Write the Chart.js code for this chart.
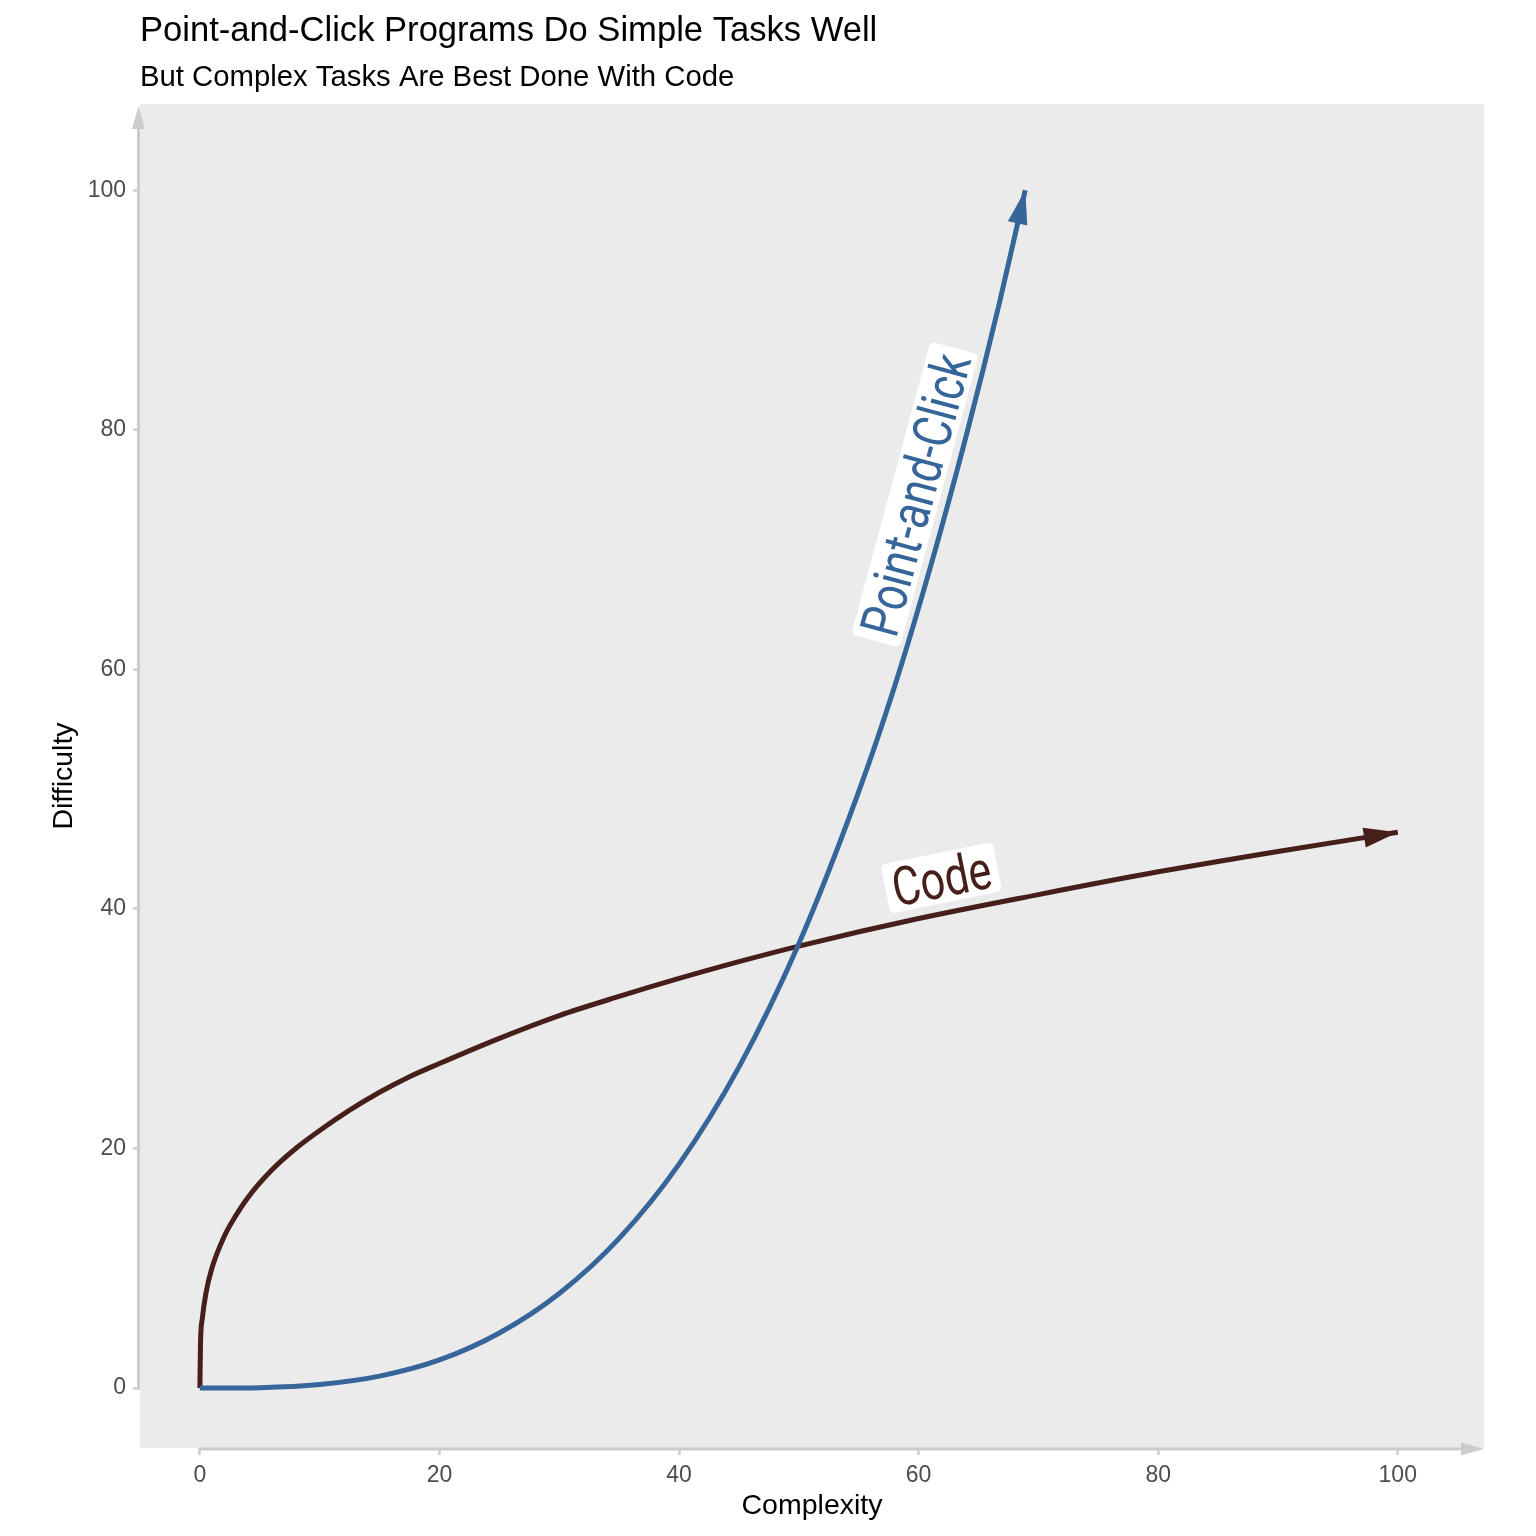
<!DOCTYPE html>
<html>
<head>
<meta charset="utf-8">
<title>Point-and-Click vs Code</title>
<script src="https://cdn.jsdelivr.net/npm/chart.js@4.4.1/dist/chart.umd.min.js"></script>
<style>
  html, body { margin: 0; padding: 0; background: #fff; }
  canvas { display: block; }
</style>
</head>
<body>
<canvas id="chart" width="1536" height="1536"></canvas>
<script>
// values
const pacComplexity = [0, 5, 10, 15, 20, 25, 30, 35, 40, 45, 50, 55, 58, 61, 64, 66.7, 68.9];
const pacDifficulty = [0, 0.04, 0.3, 1.0, 2.35, 4.6, 7.9, 12.5, 18.7, 26.8, 37.1, 49.8, 58.6, 68.6, 79.6, 90.4, 100];
const codeComplexity = [0, 0.05, 0.2, 0.5, 1, 2, 3, 4, 6, 8, 10, 12.5, 15, 17.5, 20, 25, 30, 35, 40, 45, 50, 60, 70, 80, 90, 100];
const codeDifficulty = [0, 3.7, 5.8, 7.9, 10, 12.6, 14.4, 15.9, 18.2, 20, 21.5, 23.2, 24.7, 26.0, 27.1, 29.2, 31.1, 32.7, 34.2, 35.6, 36.9, 39.2, 41.2, 43.1, 44.8, 46.4];
const tickValues = [0, 20, 40, 60, 80, 100];
const seriesNames = ['Point-and-Click', 'Code'];
const titleText = 'Point-and-Click Programs Do Simple Tasks Well';
const subtitleText = 'But Complex Tasks Are Best Done With Code';

const blue = '#366599';
const brown = '#461F1A';
const axisGray = '#CCCCCC';
const sans = '"Liberation Sans", Arial, sans-serif';

function toPoints(xs, ys) {
  return xs.map((v, i) => ({ x: v, y: ys[i] }));
}

function arrowHead(ctx, tipX, tipY, angle, len, halfW, color) {
  ctx.save();
  ctx.translate(tipX, tipY);
  ctx.rotate(angle);
  ctx.beginPath();
  ctx.moveTo(0, 0);
  ctx.lineTo(-len, -halfW);
  ctx.lineTo(-len, halfW);
  ctx.closePath();
  ctx.fillStyle = color;
  ctx.fill();
  ctx.restore();
}

// grey panel behind the plot
const panel = {
  id: 'panel',
  beforeDraw(chart) {
    const { ctx, chartArea: a } = chart;
    ctx.save();
    ctx.fillStyle = '#EBEBEB';
    ctx.fillRect(a.left, a.top, a.right - a.left, a.bottom - a.top);
    ctx.restore();
  }
};

// axis lines start at 0 and end in an arrow at the panel edge
const axisArrows = {
  id: 'axisArrows',
  afterDraw(chart) {
    const { ctx, chartArea: a, scales: { x, y } } = chart;
    const yLine = a.bottom + 1;
    const xLine = a.left - 1.5;
    ctx.save();
    ctx.strokeStyle = axisGray;
    ctx.lineWidth = 3;
    ctx.beginPath();
    ctx.moveTo(x.getPixelForValue(0), yLine);
    ctx.lineTo(a.right - 15, yLine);
    ctx.moveTo(xLine, y.getPixelForValue(0));
    ctx.lineTo(xLine, a.top + 15);
    ctx.stroke();
    arrowHead(ctx, a.right, yLine, 0, 23, 6.5, axisGray);
    arrowHead(ctx, xLine, a.top + 2, -Math.PI / 2, 23, 6.5, axisGray);
    ctx.restore();
  }
};

// arrow at the end of each curve
const curveArrows = {
  id: 'curveArrows',
  afterDatasetsDraw(chart) {
    chart.data.datasets.forEach((ds, i) => {
      const pts = chart.getDatasetMeta(i).data;
      const end = pts[pts.length - 1];
      const prev = pts[pts.length - 2];
      const ang = Math.atan2(end.y - prev.y, end.x - prev.x);
      arrowHead(chart.ctx, end.x, end.y, ang, 34, 10, ds.borderColor);
    });
  }
};

// white boxed labels laid along the curves
const curveLabels = {
  id: 'curveLabels',
  afterDatasetsDraw(chart, args, opts) {
    const { ctx, scales: { x, y } } = chart;
    opts.items.forEach(item => {
      ctx.save();
      ctx.translate(x.getPixelForValue(item.x), y.getPixelForValue(item.y));
      ctx.rotate(-item.angle * Math.PI / 180);
      ctx.font = opts.size + 'px Roboto';
      const w = ctx.measureText(item.text).width * opts.squeeze;
      const bw = w + 2 * opts.pad;
      const bh = opts.boxHeight;
      ctx.fillStyle = '#FFFFFF';
      ctx.beginPath();
      ctx.roundRect(-bw / 2, -bh / 2, bw, bh, 5);
      ctx.fill();
      ctx.scale(opts.squeeze, 1);
      ctx.fillStyle = item.color;
      ctx.textAlign = 'center';
      ctx.textBaseline = 'alphabetic';
      ctx.fillText(item.text, 0, opts.size * 0.36);
      ctx.restore();
    });
  }
};

const headings = {
  id: 'headings',
  afterDraw(chart) {
    const ctx = chart.ctx;
    const left = chart.chartArea.left;
    ctx.save();
    ctx.fillStyle = '#000000';
    ctx.textAlign = 'left';
    ctx.textBaseline = 'alphabetic';
    ctx.font = '34.6px ' + sans;
    ctx.fillText(titleText, left, 41);
    ctx.font = '29.3px ' + sans;
    ctx.fillText(subtitleText, left, 86);
    ctx.restore();
  }
};

const tickFont = { family: sans, size: 23, lineHeight: 1.2 };
const axisTitleFont = { family: sans, size: 28.5, lineHeight: 1.2 };

new Chart(document.getElementById('chart'), {
  type: 'line',
  data: {
    datasets: [
      {
        label: seriesNames[0],
        data: toPoints(pacComplexity, pacDifficulty),
        borderColor: blue,
        borderWidth: 5,
        pointRadius: 0,
        cubicInterpolationMode: 'monotone',
        fill: false
      },
      {
        label: seriesNames[1],
        data: toPoints(codeComplexity, codeDifficulty),
        borderColor: brown,
        borderWidth: 5,
        pointRadius: 0,
        cubicInterpolationMode: 'monotone',
        fill: false
      }
    ]
  },
  options: {
    responsive: false,
    animation: false,
    devicePixelRatio: 1,
    layout: { padding: { top: 104, right: 52, left: 0, bottom: 0 } },
    plugins: {
      legend: { display: false },
      tooltip: { enabled: false },
      curveLabels: {
        size: 54,
        squeeze: 0.8,
        pad: 7,
        boxHeight: 50,
        items: [
          { text: seriesNames[0], x: 59.7, y: 74.6, angle: 74.9, color: blue },
          { text: seriesNames[1], x: 61.9, y: 42.6, angle: 11.5, color: brown }
        ]
      }
    },
    scales: {
      x: {
        type: 'linear',
        min: -5,
        max: 107.2,
        afterBuildTicks: s => { s.ticks = tickValues.map(v => ({ value: v })); },
        afterFit: s => { s.height = 88; },
        ticks: { color: '#4D4D4D', font: tickFont, padding: 7, autoSkip: false, maxRotation: 0 },
        grid: { drawOnChartArea: false, drawTicks: true, tickLength: 7, tickColor: axisGray, tickWidth: 2.5 },
        border: { display: false },
        title: { display: true, text: 'Complexity', color: '#000000', font: axisTitleFont, padding: { top: 0, bottom: 13 } }
      },
      y: {
        type: 'linear',
        min: -5,
        max: 107.2,
        afterBuildTicks: s => { s.ticks = tickValues.map(v => ({ value: v })); },
        afterFit: s => { s.width = 140; },
        ticks: { color: '#4D4D4D', font: tickFont, padding: 7, autoSkip: false },
        grid: { drawOnChartArea: false, drawTicks: true, tickLength: 7, tickColor: axisGray, tickWidth: 2.5 },
        border: { display: false },
        title: { display: true, text: 'Difficulty', color: '#000000', font: axisTitleFont, padding: { top: 47, bottom: 0 } }
      }
    }
  },
  plugins: [panel, axisArrows, curveArrows, curveLabels, headings]
});
</script>
</body>
</html>
